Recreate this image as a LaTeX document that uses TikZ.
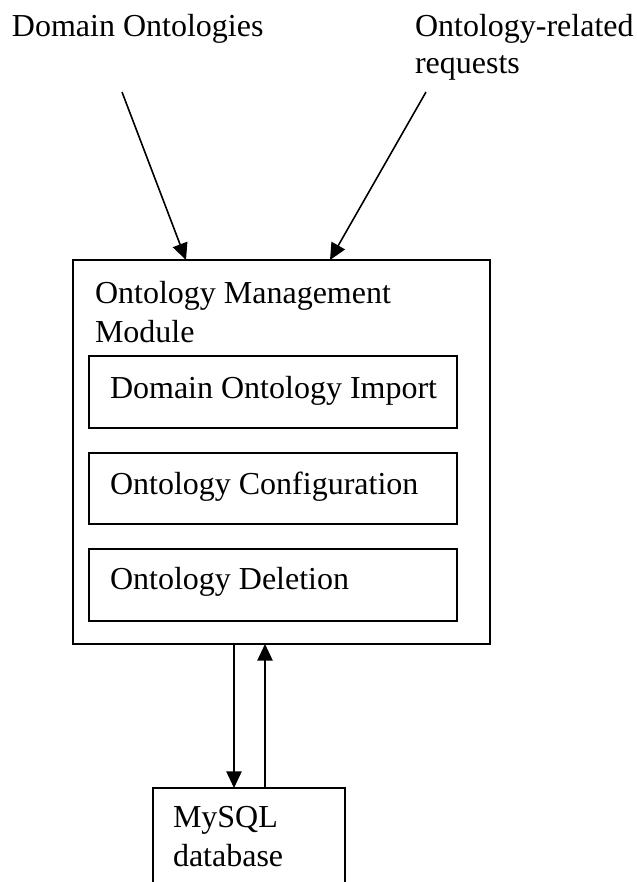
\documentclass[tikz,border=0pt]{standalone}
\usepackage{fontspec}
\setmainfont{Liberation Serif}
\usetikzlibrary{arrows.meta}
\begin{document}
\begin{tikzpicture}[x=0.75pt,y=-0.75pt,
  every node/.style={inner sep=0pt,outer sep=0pt},
  box/.style={draw,line width=1.2pt,rectangle},
  lbl/.style={anchor=base west,font=\fontsize{24}{27.6}\selectfont},
  flow/.style={line width=1.2pt,-{Triangle[length=12.5pt,width=11.5pt]}}]
  \useasboundingbox (0,0) rectangle (636,882);

  % top input labels
  \node[lbl] (domont) at (12,36) {Domain Ontologies};
  \node[lbl] (reqA) at (415,36) {Ontology-related};
  \node[lbl] (reqB) at (415,73) {requests};

  % ontology management module with its three components
  \draw[box] (73,260) rectangle (490,644);
  \node[lbl] (omm1) at (95,303) {Ontology Management};
  \node[lbl] (omm2) at (95,342) {Module};

  \draw[box] (89,356) rectangle (457,428);
  \node[lbl] (imp) at (110,398) {Domain Ontology Import};
  \draw[box] (89,453) rectangle (457,524);
  \node[lbl] (conf) at (110,494) {Ontology Configuration};
  \draw[box] (89,549) rectangle (457,621);
  \node[lbl] (del) at (110,589) {Ontology Deletion};

  % database box, running past the lower edge
  \begin{scope}
    \clip (0,0) rectangle (636,882);
    \draw[box] (153,788) rectangle (345,900);
  \end{scope}
  \node[lbl] (db1) at (173,827) {MySQL};
  \node[lbl] (db2) at (173,866) {database};

  % connector end points
  \coordinate (inA) at (122,92);
  \coordinate (inAend) at (186,260);
  \coordinate (inB) at (426,92);
  \coordinate (inBend) at (330,260);
  \coordinate (downS) at (234,644);
  \coordinate (downE) at (234,788);
  \coordinate (upS) at (265,788);
  \coordinate (upE) at (265,644);

  \draw[flow] (inA) -- (inAend);
  \draw[flow] (inB) -- (inBend);
  \draw[flow] (downS) -- (downE);
  \draw[flow] (upS) -- (upE);
\end{tikzpicture}
\end{document}
